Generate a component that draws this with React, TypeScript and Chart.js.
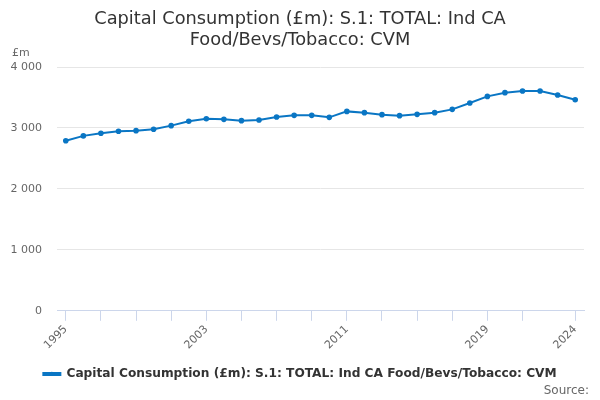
import React, { useEffect, useRef } from 'react';
import { Chart, registerables } from 'chart.js';

Chart.register(...registerables);

const years = [
  1995, 1996, 1997, 1998, 1999, 2000, 2001, 2002, 2003, 2004,
  2005, 2006, 2007, 2008, 2009, 2010, 2011, 2012, 2013, 2014,
  2015, 2016, 2017, 2018, 2019, 2020, 2021, 2022, 2023, 2024,
];
const values = [
  2790, 2870, 2912, 2945, 2956, 2978, 3038, 3109, 3152, 3141,
  3120, 3131, 3180, 3207, 3207, 3174, 3272, 3251, 3218, 3202,
  3223, 3251, 3305, 3410, 3518, 3579, 3606, 3606, 3541, 3464,
];
const tickYears = [1995, 1997, 1999, 2001, 2003, 2005, 2007, 2009, 2011, 2013, 2015, 2017, 2019, 2021, 2024];
const labelYears = [1995, 2003, 2011, 2019, 2024];
const seriesName = 'Capital Consumption (£m): S.1: TOTAL: Ind CA Food/Bevs/Tobacco: CVM';
const titleLines = ['Capital Consumption (£m): S.1: TOTAL: Ind CA', 'Food/Bevs/Tobacco: CVM'];

const FONT = "'DejaVu Sans', sans-serif";
const BLUE = '#0a76c4';

const fmt = (v: number) => String(v).replace(/\B(?=(\d{3})+(?!\d))/g, ' ');

// extra texts: the unit above the y axis, the source line, and the dot on the legend marker
const extras = {
  id: 'extras',
  afterDraw(chart: any) {
    const ctx = chart.ctx;
    ctx.save();
    ctx.fillStyle = '#666666';
    ctx.font = `11px ${FONT}`;
    ctx.textAlign = 'left';
    ctx.textBaseline = 'middle';
    ctx.fillText('£m', 12, 53);
    ctx.font = `12px ${FONT}`;
    ctx.textAlign = 'right';
    ctx.fillText('Source:', 589, 391);
    const hb = chart.legend?.legendHitBoxes?.[0];
    if (hb) {
      ctx.fillStyle = BLUE;
      ctx.beginPath();
      ctx.arc(hb.left + 8.5, hb.top + hb.height / 2, 2.2, 0, Math.PI * 2);
      ctx.fill();
    }
    ctx.restore();
  },
};

export default function App() {
  const canvas = useRef<HTMLCanvasElement | null>(null);

  useEffect(() => {
    document.body.style.margin = '0';
    if (!canvas.current) return;
    const chart = new Chart(canvas.current, {
      type: 'line',
      data: {
        datasets: [
          {
            label: seriesName,
            data: years.map((y, i) => ({ x: y, y: values[i] })),
            borderColor: BLUE,
            backgroundColor: BLUE,
            borderWidth: 2,
            pointRadius: 1.8,
            pointHoverRadius: 1.8,
            tension: 0,
          },
        ],
      },
      options: {
        animation: false,
        responsive: false,
        layout: { padding: { left: 0, right: 0, top: 0, bottom: 10 } },
        plugins: {
          tooltip: { enabled: false },
          title: {
            display: true,
            text: titleLines,
            color: '#333333',
            font: { family: FONT, size: 17.8, weight: 'normal', lineHeight: 1.18 },
            padding: { top: 9, bottom: 16 },
          },
          legend: {
            position: 'bottom',
            labels: {
              color: '#333333',
              font: { family: FONT, size: 12.2, weight: 'bold' },
              boxWidth: 17,
              boxHeight: 2,
              padding: 10,
            },
          },
        },
        scales: {
          x: {
            type: 'linear',
            min: 1994.5,
            max: 2024.5,
            afterBuildTicks: (scale: any) => {
              scale.ticks = tickYears.map((v) => ({ value: v }));
            },
            afterFit: (scale: any) => {
              scale.height = 47;
            },
            grid: {
              drawOnChartArea: false,
              drawTicks: true,
              tickLength: 10,
              color: '#ccd6eb',
            },
            border: { color: '#ccd6eb' },
            ticks: {
              autoSkip: false,
              minRotation: 45,
              maxRotation: 45,
              color: '#666666',
              font: { family: FONT, size: 11 },
              padding: 2,
              callback: (v: any) => (labelYears.includes(Number(v)) ? String(v) : ''),
            },
          },
          y: {
            min: 0,
            max: 4000,
            afterFit: (scale: any) => {
              scale.width = 57;
            },
            grid: { color: '#e6e6e6', drawTicks: false },
            border: { display: false },
            ticks: {
              stepSize: 1000,
              color: '#666666',
              font: { family: FONT, size: 11 },
              padding: 15,
              callback: (v: any) => fmt(Number(v)),
            },
          },
          // empty right-hand spacer so the plot ends at the same place as the reference
          spacer: {
            type: 'linear',
            position: 'right',
            min: 0,
            max: 4000,
            afterFit: (scale: any) => {
              scale.width = 16;
            },
            grid: { display: false, drawTicks: false },
            border: { display: false },
            ticks: { display: false },
          },
        },
      },
      plugins: [extras],
    });
    return () => chart.destroy();
  }, []);

  return (
    <div style={{ width: 600, height: 400 }}>
      <canvas ref={canvas} width={600} height={400}></canvas>
    </div>
  );
}
